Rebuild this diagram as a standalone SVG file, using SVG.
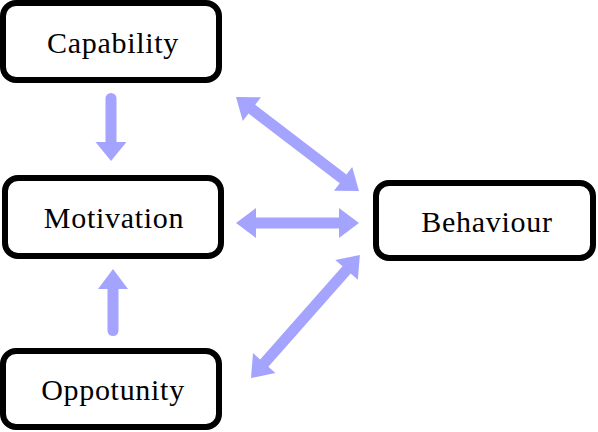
<svg xmlns="http://www.w3.org/2000/svg" width="598" height="432" viewBox="0 0 598 432">
<style>
.box{fill:#fff;stroke:#000;stroke-width:6}
.lbl{font-family:"Liberation Serif","Times New Roman",serif;font-size:30px;letter-spacing:0.7px;fill:#000;text-anchor:middle}
.arr{fill:#a4a4ff}
.shaft{stroke:#a4a4ff;stroke-width:11;stroke-linecap:round;fill:none}
</style>
<rect width="598" height="432" fill="#fff"/>
<g id="connectors">
<line class="shaft" x1="111" y1="98.5" x2="111" y2="143"/>
<polygon class="arr" points="95.5,142 126.5,142 111,161"/>
<line class="shaft" x1="113" y1="288" x2="113" y2="330.5"/>
<polygon class="arr" points="98,289 128,289 113,269"/>
<polygon class="arr" transform="translate(236,223)" points="0,0 20,-15 20,-5.5 103,-5.5 103,-15 123,0 103,15 103,5.5 20,5.5 20,15"/>
<polygon class="arr" transform="translate(236,97) rotate(37.4)" points="0,0 20,-15 20,-5.5 134.8,-5.5 134.8,-15 154.8,0 134.8,15 134.8,5.5 20,5.5 20,15"/>
<polygon class="arr" transform="translate(251,378) rotate(-48.5)" points="0,0 20,-15 20,-5.5 144.3,-5.5 144.3,-15 164.3,0 144.3,15 144.3,5.5 20,5.5 20,15"/>
</g>
<g id="capability">
<rect class="box" x="3" y="3" width="216" height="77" rx="13"/>
<text class="lbl" x="113" y="53">Capability</text>
</g>
<g id="motivation">
<rect class="box" x="5" y="178" width="216" height="78" rx="13"/>
<text class="lbl" x="114" y="228">Motivation</text>
</g>
<g id="opportunity">
<rect class="box" x="3" y="351" width="216" height="76" rx="13"/>
<text class="lbl" x="113" y="400">Oppotunity</text>
</g>
<g id="behaviour">
<rect class="box" x="376" y="183" width="217" height="75" rx="13"/>
<text class="lbl" x="487" y="232">Behaviour</text>
</g>
</svg>
